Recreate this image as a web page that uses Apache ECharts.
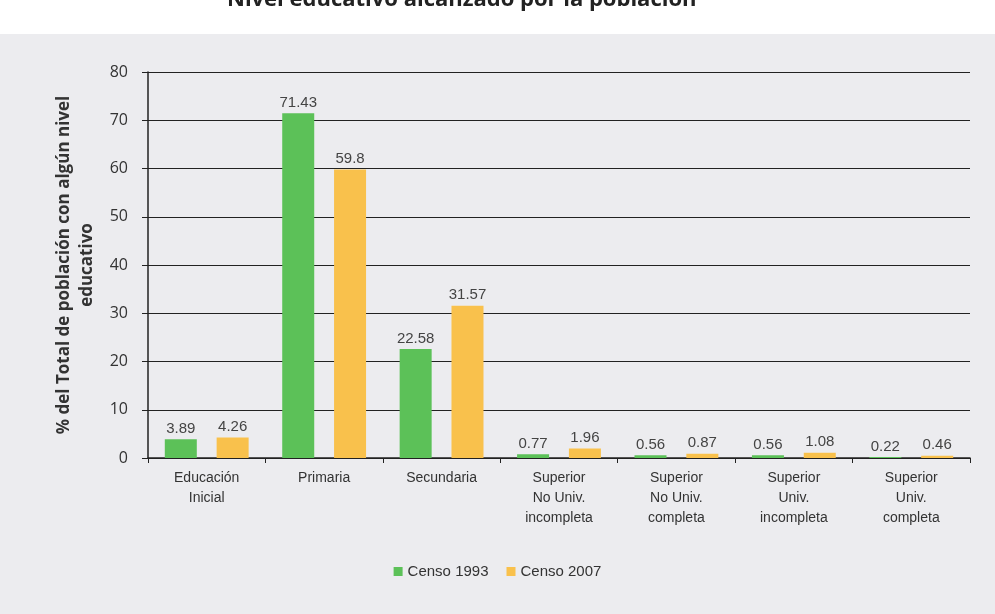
<!DOCTYPE html>
<html>
<head>
<meta charset="utf-8">
<script src="https://cdn.jsdelivr.net/npm/echarts@6/dist/echarts.min.js"></script>
<style>
html,body{margin:0;padding:0;background:#ffffff;}
#bg{position:absolute;left:0;top:34px;width:995px;height:580px;background:#ececef;}
#c{position:absolute;left:0;top:0;width:995px;height:614px;}
</style>
</head>
<body>
<div id="bg"></div>
<div id="c"></div>
<script>
const categories = ['Educación\nInicial', 'Primaria', 'Secundaria', 'Superior\nNo Univ.\nincompleta', 'Superior\nNo Univ.\ncompleta', 'Superior\nUniv.\nincompleta', 'Superior\nUniv.\ncompleta'];
const censo1993 = [3.89, 71.43, 22.58, 0.77, 0.56, 0.56, 0.22];
const censo2007 = [4.26, 59.8, 31.57, 1.96, 0.87, 1.08, 0.46];
const seriesNames = ['Censo 1993', 'Censo 2007'];
const yTicks = {min: 0, max: 80, interval: 10};

const chart = echarts.init(document.getElementById('c'));
const labelStyle = {show: true, position: 'top', color: '#444', fontSize: 15, fontFamily: 'Liberation Sans, Arial', distance: 3};
chart.setOption({
  backgroundColor: 'transparent',
  animation: false,
  title: {
    text: 'Nivel educativo alcanzado por la población',
    left: 222, top: -16,
    textStyle: {fontSize: 22, fontWeight: 'bold', color: '#222', fontFamily: 'Open Sans, Noto Sans'}
  },
  legend: {
    data: seriesNames,
    bottom: 30, left: 'center',
    itemWidth: 9, itemHeight: 9, itemGap: 18,
    icon: 'rect',
    textStyle: {fontSize: 15, color: '#333', fontFamily: 'Liberation Sans, Arial'}
  },
  grid: {left: 148, right: 25, top: 72, bottom: 156},
  xAxis: {
    type: 'category',
    data: categories,
    axisLine: {lineStyle: {color: '#222', width: 1.5}},
    axisTick: {show: true, alignWithLabel: false, lineStyle: {color: '#222'}},
    axisLabel: {fontSize: 14, color: '#333', fontFamily: 'Liberation Sans, Arial', lineHeight: 20, margin: 10, interval: 0}
  },
  yAxis: {
    type: 'value',
    min: yTicks.min, max: yTicks.max, interval: yTicks.interval,
    name: '% del Total de población con algún nivel\neducativo',
    nameLocation: 'middle',
    nameGap: 48,
    nameTextStyle: {fontSize: 17, fontWeight: 'bold', color: '#333', fontFamily: 'Open Sans, Noto Sans', lineHeight: 23},
    axisLine: {show: true, lineStyle: {color: '#222', width: 1.5}},
    axisTick: {show: true, length: 6, lineStyle: {color: '#222'}},
    axisLabel: {fontSize: 16, color: '#333', fontFamily: 'Open Sans, Noto Sans', margin: 20},
    splitLine: {lineStyle: {color: '#222', width: 1.2}}
  },
  series: [
    {name: seriesNames[0], type: 'bar', data: censo1993, barWidth: 32, barGap: '62%',
     itemStyle: {color: '#5cc158'}, label: labelStyle},
    {name: seriesNames[1], type: 'bar', data: censo2007, barWidth: 32,
     itemStyle: {color: '#f9c14c'}, label: labelStyle}
  ]
});
</script>
</body>
</html>
